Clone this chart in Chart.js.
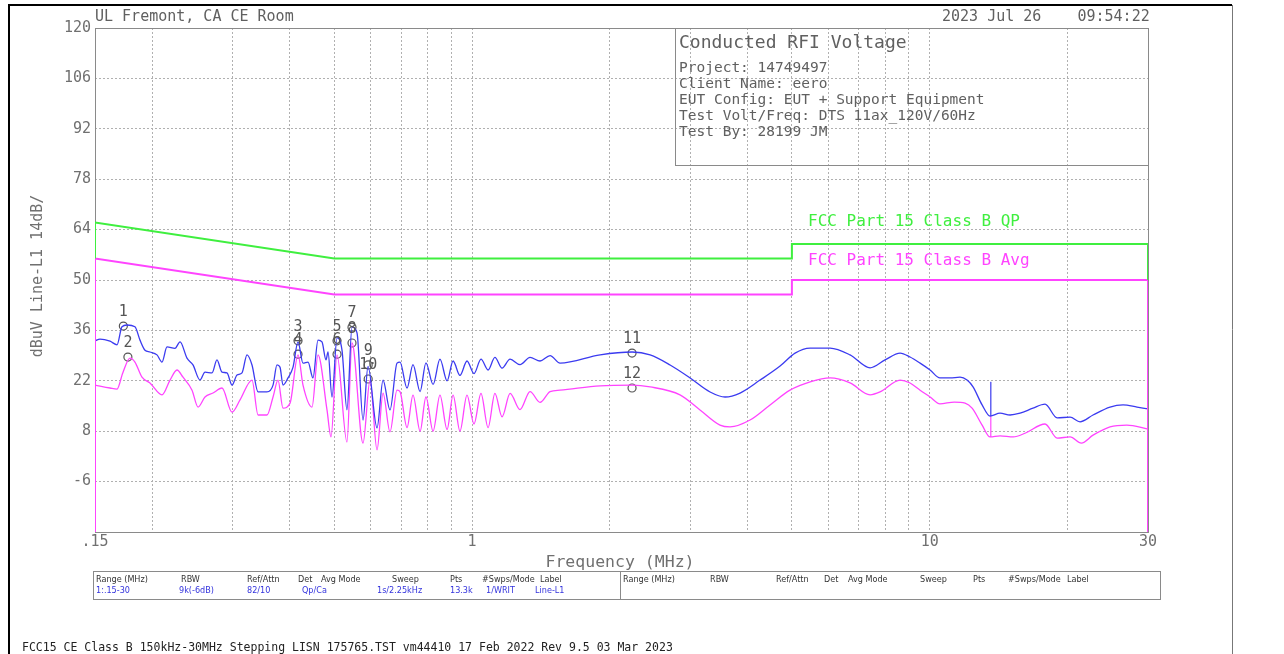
<!DOCTYPE html>
<html>
<head>
<meta charset="utf-8">
<script src="https://cdn.jsdelivr.net/npm/chart.js@4.4.1/dist/chart.umd.min.js"></script>
<style>
  html, body { margin: 0; padding: 0; background: #fff; }
  #wrap { position: relative; width: 1284px; height: 654px; }
</style>
</head>
<body>
<div id="wrap"><canvas id="rfiChart" width="1284" height="654"></canvas></div>
<script>
// Traza QP (azul) - frecuencia en MHz, nivel en dBuV
const qpFreq = [0.150, 0.1538, 0.1618, 0.1676, 0.1718, 0.1762, 0.1834, 0.1881, 0.1929, 0.1978,
  0.2049, 0.2101, 0.2155, 0.2243, 0.2301, 0.2383, 0.2456, 0.2544, 0.2609, 0.2703,
  0.2771, 0.2842, 0.2914, 0.2989, 0.3065, 0.3143, 0.3223, 0.3305, 0.3407, 0.3564,
  0.3674, 0.3748, 0.3805, 0.3863, 0.3962, 0.4063, 0.4166, 0.4272, 0.4381, 0.4492,
  0.4607, 0.4700, 0.4796, 0.4845, 0.4943, 0.5069, 0.5198, 0.5330, 0.5466, 0.5606,
  0.5778, 0.5925, 0.6200, 0.6390, 0.6618, 0.6856, 0.696, 0.721, 0.743, 0.770,
  0.793, 0.822, 0.851, 0.882, 0.909, 0.941, 0.975, 1.010, 1.046, 1.084,
  1.122, 1.163, 1.211, 1.273, 1.339, 1.408, 1.481, 1.557, 1.905, 2.237,
  2.450, 2.709, 2.996, 3.313, 3.572, 3.852, 4.260, 4.711, 5.08, 5.48,
  6.06, 6.70, 7.41, 7.99, 8.62, 9.06, 9.53, 10.02, 10.53, 11.08,
  11.65, 12.07, 12.44, 13.02, 13.55, 14.25, 14.99, 15.76, 16.82, 17.87,
  18.99, 20.27, 21.31, 22.75, 24.78, 26.46, 28.39, 30];
const qpLevel = [33.1, 33.6, 33.0, 32.0, 37.0, 37.5, 37.0, 33.3, 30.5, 30.0,
  29.2, 27.2, 31.4, 31.0, 32.8, 28.3, 26.4, 22.2, 24.4, 24.2,
  27.8, 24.4, 24.2, 20.8, 23.6, 24.2, 29.2, 26.4, 18.9, 18.9,
  20.8, 26.4, 25.8, 20.8, 22.8, 25.8, 32.8, 26.9, 27.2, 22.8,
  33.3, 32.8, 27.8, 30.0, 17.5, 33.9, 30.5, 13.9, 36.9, 35.3,
  11.1, 26.0, 8.9, 22.2, 13.9, 26.9, 27.2, 20.0, 26.5, 19.0,
  27.0, 21.0, 28.0, 22.0, 27.5, 23.5, 27.5, 24.0, 28.0, 25.0,
  28.5, 25.5, 28.0, 26.5, 28.5, 27.5, 29.0, 26.9, 29.2, 30.0,
  29.2, 26.4, 22.8, 18.9, 17.5, 18.6, 22.2, 26.1, 29.7, 31.1,
  31.1, 29.2, 25.6, 27.8, 29.7, 28.6, 26.9, 25.0, 22.8, 22.8,
  23.0, 22.2, 20.3, 15.3, 12.2, 13.0, 12.5, 13.0, 14.4, 15.5,
  11.7, 11.9, 10.6, 12.5, 14.7, 15.3, 14.7, 14.2];

// Traza Promedio (magenta)
const avgFreq = [0.150, 0.1618, 0.1676, 0.1725, 0.1789, 0.1834, 0.1900, 0.1978, 0.2101, 0.2188,
  0.2266, 0.2336, 0.2444, 0.2519, 0.2609, 0.2716, 0.2842, 0.2989, 0.3112, 0.3305,
  0.3407, 0.3564, 0.3674, 0.3767, 0.3863, 0.4002, 0.4166, 0.4272, 0.4470, 0.4607,
  0.4820, 0.4918, 0.5069, 0.5330, 0.5466, 0.5778, 0.5985, 0.6200, 0.6390, 0.6618,
  0.6856, 0.696, 0.721, 0.743, 0.770, 0.793, 0.822, 0.851, 0.882, 0.909,
  0.941, 0.975, 1.010, 1.046, 1.084, 1.122, 1.163, 1.211, 1.273, 1.339,
  1.408, 1.481, 1.557, 1.905, 2.237, 2.450, 2.847, 3.149, 3.482, 3.663,
  4.050, 4.480, 4.953, 5.48, 6.06, 6.70, 7.41, 7.79, 8.62, 9.06,
  9.53, 10.02, 10.53, 11.32, 11.95, 12.38, 13.02, 13.55, 14.25, 15.23,
  16.20, 17.87, 18.99, 20.27, 21.45, 22.75, 24.78, 26.97, 30];
const avgLevel = [20.8, 20.0, 19.7, 24.2, 28.3, 27.2, 23.0, 21.4, 18.1, 22.2,
  25.0, 23.0, 19.4, 14.7, 17.5, 18.6, 20.0, 13.3, 16.7, 22.2,
  12.5, 12.5, 17.5, 22.2, 14.4, 15.8, 29.2, 20.8, 14.7, 29.2,
  13.9, 6.4, 29.2, 5.0, 32.5, 4.7, 22.2, 2.8, 18.6, 7.8,
  19.4, 19.0, 9.0, 18.0, 8.0, 17.5, 8.0, 18.0, 8.5, 18.0,
  8.0, 18.0, 10.0, 18.5, 9.0, 18.5, 12.0, 18.5, 14.0, 19.0,
  16.0, 19.0, 19.4, 20.6, 20.8, 20.3, 18.1, 13.9, 9.7, 9.2,
  11.1, 15.3, 19.4, 21.7, 22.8, 21.4, 18.1, 18.9, 22.2, 21.4,
  19.4, 17.5, 15.6, 16.1, 15.8, 14.4, 9.7, 6.4, 6.7, 6.4,
  7.5, 10.0, 6.1, 6.4, 4.7, 6.9, 9.2, 9.7, 8.6];

// Trazo vertical del analizador cerca de 13.6 MHz
const stepFreq = [13.6, 13.6, 13.6];
const stepLevel = [21.7, 12.2, 6.4];

// Limites FCC Parte 15 Clase B
const limQpFreq = [0.15, 0.15, 0.5, 5, 5, 30, 30];
const limQpLevel = [56, 66, 56, 56, 60, 60, 50];
const limAvgFreq = [0.15, 0.15, 0.5, 5, 5, 30, 30];
const limAvgLevel = [-20, 56, 46, 46, 50, 50, -20];

// Marcadores
const markerNum = ['1', '2', '3', '4', '5', '6', '7', '8', '9', '10', '11', '12'];
const markerFreq = [0.173, 0.177, 0.4166, 0.4166, 0.507, 0.507, 0.5466, 0.5466, 0.593, 0.593, 2.237, 2.237];
const markerLevel = [37.2, 28.6, 33.1, 29.4, 33.1, 29.4, 36.9, 32.5, 26.4, 22.5, 29.7, 20.0];

// Ejes
const xTicks = [0.15, 0.2, 0.3, 0.4, 0.5, 0.6, 0.7, 0.8, 0.9, 1, 2, 3, 4, 5, 6, 7, 8, 9, 10, 20, 30];
const xTickLabels = { 0.15: '.15', 1: '1', 10: '10', 30: '30' };
const yTicks = [-20, -6, 8, 22, 36, 50, 64, 78, 92, 106, 120];

// Paleta
const palette = {
  blue: '#3b3bf0',
  magenta: '#ff44ff',
  green: '#3fef3f',
  grid: '#b0b0b0',
  frame: '#8a8a8a',
  text: '#707070'
};

const mono = '"DejaVu Sans Mono", monospace';
const narrow = '"Liberation Sans Narrow", "DejaVu Sans Condensed", sans-serif';

function pares(freqs, levels) {
  return freqs.map((f, i) => ({ x: f, y: levels[i] }));
}

// Textos y marcos alrededor del grafico
const decoPlugin = {
  id: 'deco',
  beforeDatasetsDraw(chart) {
    const { ctx, chartArea: a } = chart;
    ctx.save();
    ctx.strokeStyle = palette.frame;
    ctx.lineWidth = 1;
    ctx.strokeRect(a.left + 0.5, a.top + 0.5, a.right - a.left, a.bottom - a.top);
    ctx.restore();
  },
  afterDraw(chart) {
    const { ctx, chartArea: a } = chart;
    ctx.save();

    // marco exterior
    ctx.strokeStyle = '#000';
    ctx.lineWidth = 2;
    ctx.beginPath();
    ctx.moveTo(9, 654); ctx.lineTo(9, 5); ctx.lineTo(1232, 5);
    ctx.stroke();
    ctx.strokeStyle = '#777';
    ctx.lineWidth = 1;
    ctx.beginPath();
    ctx.moveTo(1232.5, 5); ctx.lineTo(1232.5, 654);
    ctx.stroke();

    // encabezado
    ctx.fillStyle = '#606060';
    ctx.font = '15px ' + mono;
    ctx.textBaseline = 'middle';
    ctx.textAlign = 'left';
    ctx.fillText('UL Fremont, CA CE Room', 95, 17);
    ctx.fillText('2023 Jul 26    09:54:22', 942, 17);

    // cuadro de informacion
    ctx.strokeStyle = palette.frame;
    ctx.strokeRect(675.5, a.top + 0.5, a.right - 675, 137);
    ctx.font = '18px ' + mono;
    ctx.fillText('Conducted RFI Voltage', 679, 43);
    ctx.font = '14.5px ' + mono;
    const info = ['Project: 14749497', 'Client Name: eero', 'EUT Config: EUT + Support Equipment',
      'Test Volt/Freq: DTS 11ax_120V/60Hz', 'Test By: 28199 JM'];
    info.forEach((t, i) => ctx.fillText(t, 679, 68 + i * 16));

    // etiquetas de limites
    ctx.font = '16px ' + mono;
    ctx.fillStyle = palette.green;
    ctx.fillText('FCC Part 15 Class B QP', 808, 222);
    ctx.fillStyle = palette.magenta;
    ctx.fillText('FCC Part 15 Class B Avg', 808, 261);

    // titulo eje y
    ctx.fillStyle = palette.text;
    ctx.font = '15px ' + mono;
    ctx.save();
    ctx.translate(38, 276);
    ctx.rotate(-Math.PI / 2);
    ctx.textAlign = 'center';
    ctx.fillText('dBuV Line-L1 14dB/', 0, 0);
    ctx.restore();

    // titulo eje x
    ctx.font = '16.5px ' + mono;
    ctx.textAlign = 'center';
    ctx.fillText('Frequency (MHz)', 620, 563);

    // numeros de marcadores
    const meta = chart.getDatasetMeta(5);
    ctx.font = '15px ' + mono;
    ctx.fillStyle = '#555';
    meta.data.forEach((p, i) => ctx.fillText(markerNum[i], p.x, p.y - 14));

    // tabla de configuracion
    ctx.strokeStyle = palette.frame;
    ctx.strokeRect(93.5, 571.5, 1067, 28);
    ctx.beginPath(); ctx.moveTo(620.5, 571.5); ctx.lineTo(620.5, 599.5); ctx.stroke();
    ctx.font = '9px ' + narrow;
    ctx.textAlign = 'left';
    ctx.fillStyle = '#333';
    const cab = [['Range (MHz)', 96], ['RBW', 181], ['Ref/Attn', 247], ['Det', 298], ['Avg Mode', 321],
      ['Sweep', 392], ['Pts', 450], ['#Swps/Mode', 482], ['Label', 540]];
    cab.forEach(([t, x]) => ctx.fillText(t, x, 580));
    const cab2 = [['Range (MHz)', 623], ['RBW', 710], ['Ref/Attn', 776], ['Det', 824], ['Avg Mode', 848],
      ['Sweep', 920], ['Pts', 973], ['#Swps/Mode', 1008], ['Label', 1067]];
    cab2.forEach(([t, x]) => ctx.fillText(t, x, 580));
    ctx.fillStyle = '#3333dd';
    const vals = [['1:.15-30', 96], ['9k(-6dB)', 179], ['82/10', 247], ['Qp/Ca', 302], ['1s/2.25kHz', 377],
      ['13.3k', 450], ['1/WRIT', 486], ['Line-L1', 535]];
    vals.forEach(([t, x]) => ctx.fillText(t, x, 591));

    // pie
    ctx.fillStyle = '#222';
    ctx.font = '11.5px ' + mono;
    ctx.fillText('FCC15 CE Class B 150kHz-30MHz Stepping LISN 175765.TST vm44410 17 Feb 2022 Rev 9.5 03 Mar 2023', 22, 648);

    ctx.restore();
  }
};

new Chart(document.getElementById('rfiChart'), {
  type: 'line',
  data: {
    datasets: [
      { label: 'QP limit', data: pares(limQpFreq, limQpLevel), borderColor: palette.green, borderWidth: 2, pointRadius: 0, tension: 0 },
      { label: 'Avg limit', data: pares(limAvgFreq, limAvgLevel), borderColor: palette.magenta, borderWidth: 2, pointRadius: 0, tension: 0 },
      { label: 'QP', data: pares(qpFreq, qpLevel), borderColor: palette.blue, borderWidth: 1.3, pointRadius: 0, cubicInterpolationMode: 'monotone' },
      { label: 'Avg', data: pares(avgFreq, avgLevel), borderColor: palette.magenta, borderWidth: 1.3, pointRadius: 0, cubicInterpolationMode: 'monotone' },
      { label: 'Step', data: pares(stepFreq, stepLevel), borderWidth: 1, pointRadius: 0, tension: 0,
        segment: { borderColor: c => (c.p0DataIndex === 0 ? 'rgba(80,80,240,0.7)' : 'rgba(255,80,255,0.6)') } },
      { label: 'Markers', data: pares(markerFreq, markerLevel), showLine: false, pointRadius: 4, pointBorderWidth: 1.2,
        pointBorderColor: '#555', pointBackgroundColor: 'rgba(0,0,0,0)' }
    ]
  },
  options: {
    responsive: false,
    animation: false,
    layout: { padding: { left: 0, top: 28, right: 136, bottom: 0 } },
    plugins: { legend: { display: false }, tooltip: { enabled: false } },
    scales: {
      x: {
        type: 'logarithmic',
        min: 0.15,
        max: 30,
        afterFit: s => { s.height = 122; },
        afterBuildTicks: s => { s.ticks = xTicks.map(v => ({ value: v })); },
        ticks: {
          autoSkip: false,
          maxRotation: 0,
          padding: 1,
          color: palette.text,
          font: { family: mono, size: 15 },
          callback: v => xTickLabels[v] || ''
        },
        grid: { color: palette.grid, drawTicks: false, lineWidth: 1 },
        border: { display: false, dash: [2, 2] }
      },
      y: {
        min: -20,
        max: 120,
        afterFit: s => { s.width = 95; },
        afterBuildTicks: s => { s.ticks = yTicks.map(v => ({ value: v })); },
        ticks: {
          padding: 4,
          color: palette.text,
          font: { family: mono, size: 15 },
          callback: v => (v === -20 ? '' : String(v))
        },
        grid: { color: palette.grid, drawTicks: false, lineWidth: 1 },
        border: { display: false, dash: [2, 2] }
      }
    }
  },
  plugins: [decoPlugin]
});
</script>
</body>
</html>
